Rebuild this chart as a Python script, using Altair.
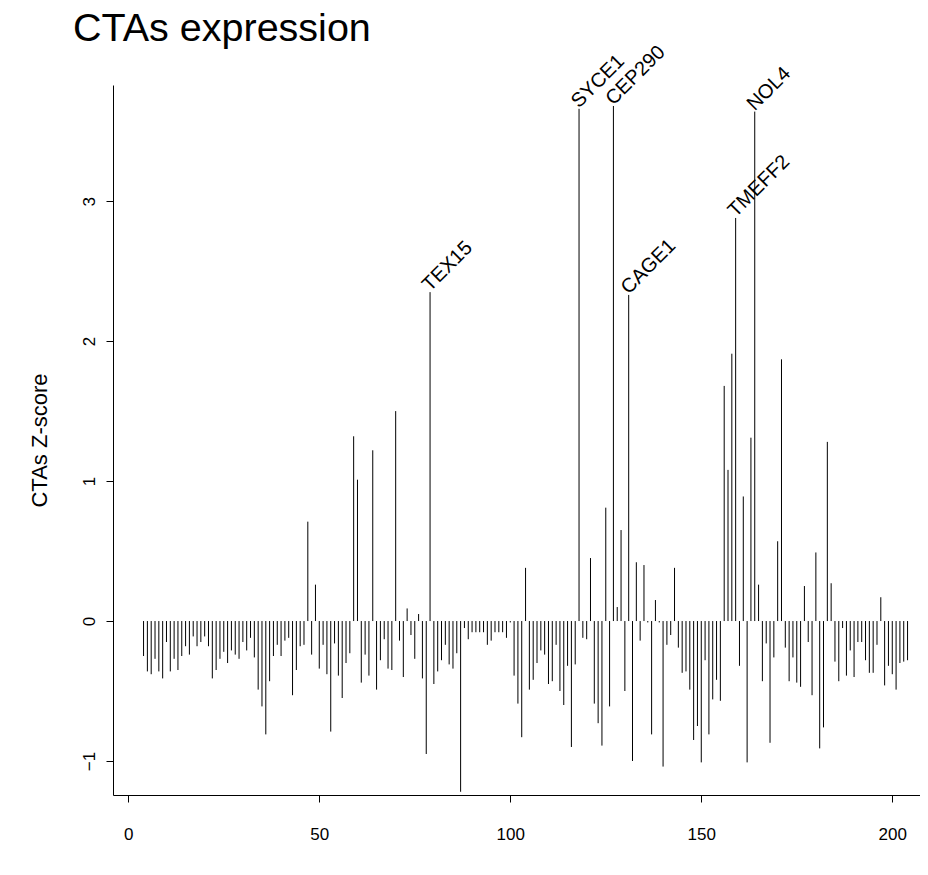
import altair as alt
import pandas as pd

# Z-scores of the CTAs, in plotting order
zscores = [
    -0.25, -0.36, -0.38, -0.27, -0.36, -0.41, -0.15, -0.36, -0.27, -0.35,
    -0.25, -0.18, -0.24, -0.11, -0.18, -0.15, -0.11, -0.18, -0.41, -0.35,
    -0.27, -0.22, -0.30, -0.21, -0.24, -0.27, -0.15, -0.21, -0.12, -0.26,
    -0.49, -0.61,
    -0.81, -0.43, -0.25, -0.17, -0.25, -0.14, -0.12, -0.53, -0.35, -0.18,
    -0.17, 0.71, -0.24, 0.26, -0.34, -0.17, -0.38, -0.79, -0.16, -0.39,
    -0.55, -0.30, -0.23, 1.32, 1.01, -0.44, -0.24, -0.39, 1.22, -0.49,
    -0.28, -0.13, -0.34, -0.35,
    1.50, -0.14, -0.40, 0.09, -0.10, -0.27, 0.05, -0.41, -0.95, 2.35,
    -0.45, -0.36, -0.28, -0.17, -0.31, -0.34, -0.23, -1.22, -0.05, -0.13,
    -0.08, -0.08, -0.08, -0.08, -0.17, -0.14, -0.08, -0.08, -0.08, -0.12,
    -0.01, -0.39, -0.59, -0.83,
    0.38, -0.49, -0.42, -0.30, -0.21, -0.24, -0.45, -0.43, -0.17, -0.50,
    -0.60, -0.32, -0.90, -0.31, 3.66, -0.12, -0.13, 0.45, -0.59, -0.73,
    -0.89, 0.81, -0.61, 3.68, 0.10, 0.65, -0.50, 2.33, -1.00, 0.42,
    -0.14, 0.40, -0.01, -0.81,
    0.15, -0.01, -1.04, -0.17, -0.10, 0.38, -0.19, -0.37, -0.36, -0.49,
    -0.85, -0.75, -1.01, -0.28, -0.81, -0.56, -0.42, -0.57, 1.68, 1.08,
    1.91, 2.88, -0.32, 0.89, -1.01, 1.31, 3.64, 0.26, -0.43, -0.16,
    -0.87, -0.26, 0.57, 1.87,
    -0.19, -0.43, -0.26, -0.44, -0.47, 0.25, -0.15, -0.53, 0.49, -0.91,
    -0.76, 1.28, 0.27, -0.29, -0.43, -0.05, -0.39, -0.21, -0.40, -0.15,
    -0.15, -0.28, -0.37, -0.37, -0.17, 0.17, -0.46, -0.32, -0.38, -0.49,
    -0.30, -0.29, -0.28,
]
first_index = 4

label_genes = ["TEX15", "SYCE1", "CEP290", "CAGE1", "TMEFF2", "NOL4"]
label_rank = [76, 115, 124, 128, 156, 161]

x_ticks = [0, 50, 100, 150, 200]
y_ticks = [-1, 0, 1, 2, 3]

df = pd.DataFrame({
    "idx": [first_index + i for i in range(len(zscores))],
    "z": zscores,
    "base": [0.0] * len(zscores),
})
lab = pd.DataFrame({
    "idx": [first_index + r - 1 for r in label_rank],
    "z": [zscores[r - 1] for r in label_rank],
    "gene": label_genes,
})

FONT = "Liberation Sans"
xs = alt.Scale(domain=[-4, 207.26], nice=False, zero=False)
ys = alt.Scale(domain=[-1.243, 3.83], nice=False, zero=False)

bars = alt.Chart(df).mark_rule(color="black", strokeWidth=1).encode(
    x=alt.X("idx:Q", scale=xs, axis=alt.Axis(
        values=x_ticks, title=None, grid=False, format="d",
        domainColor="black", tickColor="black", tickSize=7,
        labelFont=FONT, labelFontSize=17, labelColor="black", labelPadding=24,
        labelFlush=False)),
    y=alt.Y("z:Q", scale=ys, axis=alt.Axis(
        values=y_ticks, title="CTAs Z-score", grid=False, format="d",
        domainColor="black", tickColor="black", tickSize=7,
        labelFont=FONT, labelFontSize=17, labelColor="black",
        labelAngle=270, labelAlign="center", labelBaseline="bottom", labelPadding=8,
        labelFlush=False,
        titleFont=FONT, titleFontSize=22, titleFontWeight="normal", titleColor="black",
        titleAngle=270, titleAlign="center", titleBaseline="bottom",
        titleX=-62, titleY=355)),
    y2="base:Q",
)

labels = alt.Chart(lab).mark_text(
    angle=315, align="left", baseline="alphabetic", font=FONT, fontSize=20,
    color="black", dx=0,
).encode(
    x=alt.X("idx:Q", scale=xs),
    y=alt.Y("z:Q", scale=ys),
    text="gene:N",
)

chart = alt.layer(bars, labels).properties(
    width=807, height=710,
    background="white",
    padding={"left": 105, "top": 77, "right": 0, "bottom": 70},
    autosize=alt.AutoSizeParams(type="none"),
    title=alt.TitleParams("CTAs expression", anchor="start", frame="group",
                          font=FONT, fontSize=39.5, fontWeight="normal",
                          color="black", dx=-40, offset=-7),
).configure_view(stroke="transparent", strokeWidth=0)

chart.save("out.html", embed_options={"renderer": "svg", "actions": False})
